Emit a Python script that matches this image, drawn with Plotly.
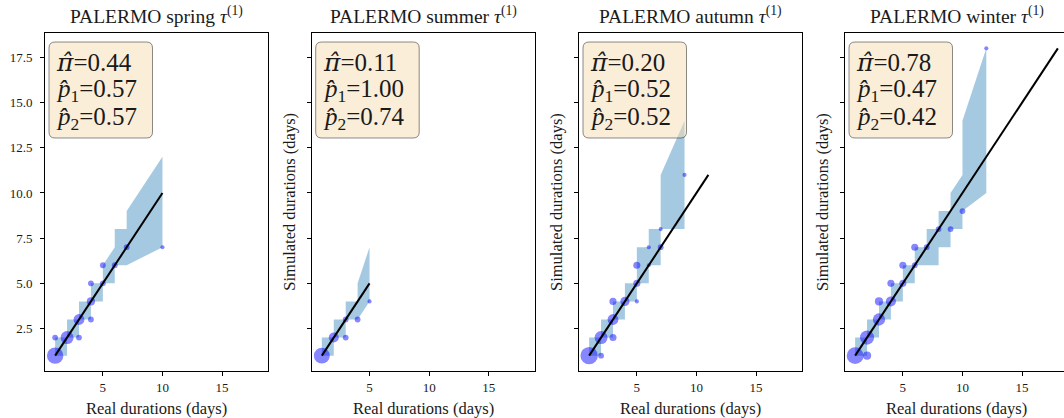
import numpy as np
import plotly.graph_objects as go

W, H = 1064, 418

# ---------------- data ----------------
seasons = ["spring", "summer", "autumn", "winter"]
pi_hat = [0.44, 0.11, 0.20, 0.78]
p1_hat = [0.57, 1.00, 0.52, 0.47]
p2_hat = [0.57, 0.74, 0.52, 0.42]
line_max = [10, 5, 11, 18]

# scatter: real duration, simulated duration, frequency weight
spring_real = [1, 1, 2, 3, 3, 4, 4, 4, 5, 5, 6, 7, 10]
spring_sim = [1, 2, 2, 2, 3, 3, 4, 5, 5, 6, 6, 7, 7]
spring_cnt = [16, 2, 10, 2, 7, 2, 4, 2, 2, 2, 2, 2, 1]

summer_real = [1, 2, 3, 3, 4, 5]
summer_sim = [1, 2, 2, 3, 3, 4]
summer_cnt = [15, 6, 2, 2, 2, 1]

autumn_real = [1, 2, 2, 3, 3, 3, 4, 5, 5, 5, 6, 6, 7, 7, 9]
autumn_sim = [1, 1, 2, 2, 3, 4, 4, 4, 5, 6, 6, 7, 7, 8, 11]
autumn_cnt = [18, 2, 10, 3, 7, 3, 5, 1, 3, 3, 1, 1, 2, 1, 1]

winter_real = [1, 2, 2, 3, 3, 4, 4, 5, 5, 6, 6, 7, 8, 9, 10, 12]
winter_sim = [1, 1, 2, 3, 4, 4, 5, 5, 6, 6, 7, 7, 8, 8, 9, 18]
winter_cnt = [17, 4, 12, 9, 4, 6, 3, 3, 3, 2, 3, 2, 2, 2, 2, 1]

# confidence band of simulated quantiles
spring_band_x = [1, 2, 2, 3, 3, 4, 4, 5, 5, 6, 6, 7, 7, 10]
spring_band_lo = [1, 1, 2, 2, 3, 3, 4, 4, 5, 5, 6, 6, 6, 7]
spring_band_hi = [2, 2, 3, 3, 4, 4, 5, 5, 6, 7, 8, 8, 9, 12]

summer_band_x = [1, 2, 2, 3, 3, 4, 4, 5]
summer_band_lo = [1, 1, 2, 2, 3, 3, 3, 4]
summer_band_hi = [2, 2, 3, 3, 4, 4, 5, 7]

autumn_band_x = [1, 2, 2, 3, 3, 4, 4, 5, 5, 6, 6, 7, 7, 9]
autumn_band_lo = [1, 1, 2, 2, 3, 3, 4, 4, 5, 5, 6, 6, 8, 8]
autumn_band_hi = [2, 2, 3, 3, 4, 4, 5, 5, 7, 7, 8, 8, 11, 14]

winter_band_x = [1, 2, 2, 3, 3, 4, 4, 5, 5, 6, 6, 7, 7, 8, 8, 9, 9, 10, 10, 12]
winter_band_lo = [1, 1, 2, 2, 3, 3, 4, 4, 5, 5, 6, 6, 6, 6, 7, 7, 8, 8, 9, 10]
winter_band_hi = [2, 2, 3, 3, 4, 4, 5, 5, 6, 6, 7, 7, 8, 8, 9, 9, 10, 11, 14, 18]

x_tick_vals = [5, 10, 15]
y_tick_vals = [2.5, 5.0, 7.5, 10.0, 12.5, 15.0, 17.5]
y_tick_text = ["2.5", "5.0", "7.5", "10.0", "12.5", "15.0", "17.5"]

real_all = [spring_real, summer_real, autumn_real, winter_real]
sim_all = [spring_sim, summer_sim, autumn_sim, winter_sim]
cnt_all = [spring_cnt, summer_cnt, autumn_cnt, winter_cnt]
bx_all = [spring_band_x, summer_band_x, autumn_band_x, winter_band_x]
blo_all = [spring_band_lo, summer_band_lo, autumn_band_lo, winter_band_lo]
bhi_all = [spring_band_hi, summer_band_hi, autumn_band_hi, winter_band_hi]

# ---------------- layout geometry (pixels) ----------------
FONT = "Liberation Serif"
TXT = "#1a1a1a"
lefts = [45.0, 311.7, 579.0, 845.0]
pw = 223.0
top_px, bot_px = 33.0, 371.0
xr = [0.15, 18.85]
upx = pw / (xr[1] - xr[0])


def px(x):
    return x / W


def py(y):
    return 1 - y / H


fig = go.Figure()
layout = dict(
    width=W, height=H, margin=dict(l=0, r=0, t=0, b=0),
    paper_bgcolor="white", plot_bgcolor="white", showlegend=False,
    font=dict(family=FONT, color=TXT, size=12),
)
annotations = []
shapes = []

for i in range(4):
    sfx = "" if i == 0 else str(i + 1)
    xa, ya = "x" + sfx, "y" + sfx
    left = lefts[i]
    right = min(left + pw, W)
    x_hi = xr[0] + (right - left) / upx

    # band
    fig.add_trace(go.Scatter(x=bx_all[i], y=blo_all[i], mode="lines",
                             line=dict(width=0, color="rgba(0,0,0,0)"),
                             xaxis=xa, yaxis=ya, hoverinfo="skip"))
    fig.add_trace(go.Scatter(x=bx_all[i], y=bhi_all[i], mode="lines",
                             line=dict(width=0, color="rgba(0,0,0,0)"),
                             fill="tonexty", fillcolor="rgba(31,119,180,0.4)",
                             xaxis=xa, yaxis=ya, hoverinfo="skip"))
    # scatter
    sizes = 4.1 * np.sqrt(np.array(cnt_all[i], dtype=float))
    fig.add_trace(go.Scatter(x=real_all[i], y=sim_all[i], mode="markers",
                             marker=dict(size=sizes, color="rgba(0,0,255,0.68)",
                                         line=dict(width=0)),
                             xaxis=xa, yaxis=ya))
    # identity line
    fig.add_trace(go.Scatter(x=[1, line_max[i]], y=[1, line_max[i]], mode="lines",
                             line=dict(color="black", width=2),
                             xaxis=xa, yaxis=ya))

    axis_common = dict(showline=True, linecolor="black", linewidth=1,
                       ticks="outside", ticklen=4, tickwidth=1, tickcolor="black",
                       showgrid=False, zeroline=False,
                       tickfont=dict(family=FONT, size=13, color=TXT))
    layout["xaxis" + sfx] = dict(
        domain=[px(left), px(right)], range=[xr[0], x_hi], anchor=ya,
        tickvals=x_tick_vals, mirror=True, **axis_common)
    layout["yaxis" + sfx] = dict(
        domain=[py(bot_px), py(top_px)], range=[0.15, 18.85], anchor=xa,
        tickvals=y_tick_vals, ticktext=y_tick_text, ticklabelstandoff=5,
        showticklabels=(i == 0), mirror=(i < 3), **axis_common)

    cx = (left + left + pw) / 2
    annotations.append(dict(
        text=f"PALERMO {seasons[i]} <i>τ</i><sup>(1)</sup>",
        x=px(cx), y=py(15), xref="paper", yref="paper",
        xanchor="center", yanchor="middle", showarrow=False,
        font=dict(family=FONT, size=19.5, color=TXT)))
    annotations.append(dict(
        text="Real durations (days)", x=px(cx), y=py(408),
        xref="paper", yref="paper", xanchor="center", yanchor="middle",
        showarrow=False, font=dict(family=FONT, size=16.5, color=TXT)))
    if i > 0:
        annotations.append(dict(
            text="Simulated durations (days)", x=px(left - 23), y=py((top_px + bot_px) / 2),
            xref="paper", yref="paper", xanchor="center", yanchor="middle",
            textangle=-90, showarrow=False,
            font=dict(family=FONT, size=16.5, color=TXT)))

    # text box
    bx0, bx1, by0, by1, r = left + 4, left + 107.5, 42, 138, 6
    path = (f"M {px(bx0 + r)},{py(by0)} L {px(bx1 - r)},{py(by0)} "
            f"Q {px(bx1)},{py(by0)} {px(bx1)},{py(by0 + r)} "
            f"L {px(bx1)},{py(by1 - r)} Q {px(bx1)},{py(by1)} {px(bx1 - r)},{py(by1)} "
            f"L {px(bx0 + r)},{py(by1)} Q {px(bx0)},{py(by1)} {px(bx0)},{py(by1 - r)} "
            f"L {px(bx0)},{py(by0 + r)} Q {px(bx0)},{py(by0)} {px(bx0 + r)},{py(by0)} Z")
    shapes.append(dict(type="path", path=path, xref="paper", yref="paper",
                       fillcolor="rgba(245,222,179,0.5)",
                       line=dict(color="rgba(0,0,0,0.45)", width=1), layer="above"))
    lines = [f"<span style='font-family:DejaVu Serif'><i>π\u0302</i></span>={pi_hat[i]:.2f}",
             f"<i>p\u0302</i><sub>1</sub>={p1_hat[i]:.2f}",
             f"<i>p\u0302</i><sub>2</sub>={p2_hat[i]:.2f}"]
    for k, t in enumerate(lines):
        annotations.append(dict(
            text=t, x=px(left + 9), y=py(62 + 28 * k), xref="paper", yref="paper",
            xanchor="left", yanchor="middle", showarrow=False,
            font=dict(family=FONT, size=25, color=TXT)))

layout["annotations"] = annotations
layout["shapes"] = shapes
fig.update_layout(**layout)
fig.write_html("out.html")
